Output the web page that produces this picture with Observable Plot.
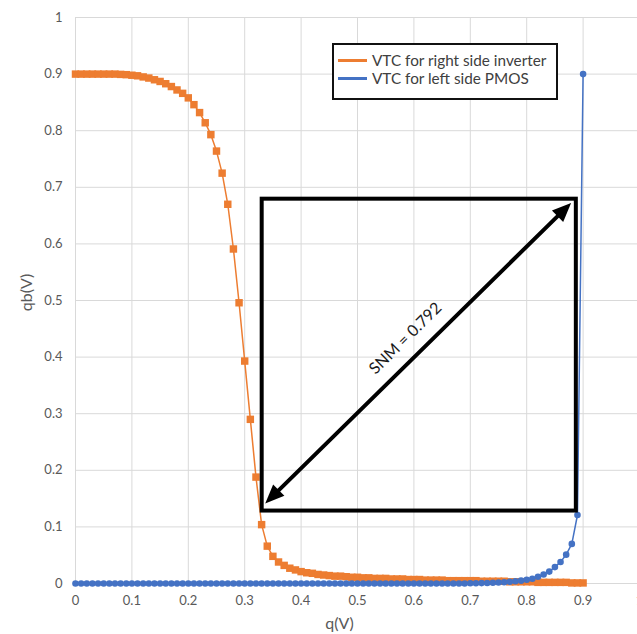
<!DOCTYPE html>
<html><head><meta charset="utf-8">
<script src="https://cdn.jsdelivr.net/npm/d3@7"></script>
<script src="https://cdn.jsdelivr.net/npm/@observablehq/plot@0.6"></script>
<style>
html,body{margin:0;padding:0;background:#fff;overflow:hidden;}
#wrap{position:relative;width:637px;height:634px;overflow:hidden;}
#wrap svg{max-width:none !important;display:block;}
.legend{position:absolute;left:332px;top:43px;width:222px;height:47px;border:2px solid #111;background:#fff;font-family:Lato,sans-serif;font-size:15.3px;color:#404040;padding-top:6px;box-sizing:content-box;}
.legend .row{display:flex;align-items:center;height:18px;white-space:nowrap;}
.legend .sw{width:29px;height:3px;margin-left:4px;margin-right:5px;flex:none;}
</style>
</head><body>
<div id="wrap"></div>
<script>
// ---- data ----
const q = [0,0.01,0.02,0.03,0.04,0.05,0.06,0.07,0.08,0.09,
  0.10,0.11,0.12,0.13,0.14,0.15,0.16,0.17,0.18,0.19,
  0.20,0.21,0.22,0.23,0.24,0.25,0.26,0.27,0.28,0.29,
  0.30,0.31,0.32,0.33,0.34,0.35,0.36,0.37,0.38,0.39,
  0.40,0.41,0.42,0.43,0.44,0.45,0.46,0.47,0.48,0.49,
  0.50,0.51,0.52,0.53,0.54,0.55,0.56,0.57,0.58,0.59,
  0.60,0.61,0.62,0.63,0.64,0.65,0.66,0.67,0.68,0.69,
  0.70,0.71,0.72,0.73,0.74,0.75,0.76,0.77,0.78,0.79,
  0.80,0.81,0.82,0.83,0.84,0.85,0.86,0.87,0.88,0.89,0.90];
const qbInverter = [0.900,0.900,0.900,0.900,0.900,0.900,0.900,0.900,0.8995,0.899,
  0.898,0.897,0.895,0.893,0.890,0.887,0.883,0.878,0.872,0.866,
  0.858,0.846,0.832,0.814,0.793,0.764,0.725,0.670,0.591,0.496,
  0.393,0.290,0.188,0.104,0.066,0.048,0.038,0.032,0.027,0.024,
  0.021,0.019,0.018,0.016,0.015,0.014,0.013,0.013,0.012,0.011,
  0.011,0.010,0.010,0.009,0.009,0.009,0.008,0.008,0.008,0.007,
  0.007,0.007,0.006,0.006,0.006,0.006,0.005,0.005,0.005,0.005,
  0.005,0.005,0.004,0.004,0.004,0.004,0.004,0.003,0.003,0.003,
  0.003,0.003,0.002,0.002,0.002,0.002,0.002,0.002,0.001,0.001,0.001];
const qbPMOS = [0,0,0,0,0,0,0,0,0,0,
  0,0,0,0,0,0,0,0,0,0,
  0,0,0,0,0,0,0,0,0,0,
  0,0,0,0,0,0,0,0,0,0,
  0,0,0,0,0,0,0,0,0,0,
  0,0,0,0,0,0,0,0,0,0,
  0,0,0,0,0,0,0,0,0,0,
  0.0005,0.0005,0.0007,0.001,0.0013,0.0017,0.0022,0.003,0.004,0.005,
  0.0065,0.0085,0.012,0.016,0.021,0.029,0.038,0.051,0.070,0.121,0.900];
const seriesNames = ["VTC for right side inverter", "VTC for left side PMOS"];
const seriesColors = ["#ED7D31", "#4472C4"];
const xTicks = [0,0.1,0.2,0.3,0.4,0.5,0.6,0.7,0.8,0.9,1];
const yTicks = [0,0.1,0.2,0.3,0.4,0.5,0.6,0.7,0.8,0.9,1];
const xLabel = "q(V)";
const yLabel = "qb(V)";
const snmBox = [{x1:0.331, x2:0.888, y1:0.128, y2:0.679}];
const snmArrow = [{x1:0.3364, y1:0.1414, x2:0.8787, y2:0.6724}];
const snmText = [{x:0.585, y:0.433, label:"SNM = 0.792"}];

// ---- build ----
const inv = q.map((x,i)=>({x, y:qbInverter[i]}));
const pm = q.map((x,i)=>({x, y:qbPMOS[i]}));
const heads = [
  {x:snmArrow[0].x2, y:snmArrow[0].y2, r:45.4},
  {x:snmArrow[0].x1, y:snmArrow[0].y1, r:225.4}
];
const arrowHead = {draw(ctx){ctx.moveTo(0,0);ctx.lineTo(-8,19);ctx.lineTo(8,19);ctx.closePath();}};
const fmt = d => String(+d.toFixed(1));

const chart = Plot.plot({
  width: 645, height: 634,
  marginLeft: 75, marginRight: 6, marginTop: 17, marginBottom: 51,
  x: {domain:[0,1]}, y: {domain:[0,1]},
  style: {fontFamily: "Lato, sans-serif", fontSize: "13px", background: "white", maxWidth: "none"},
  marks: [
    Plot.gridX(xTicks, {stroke:"#d9d9d9", strokeOpacity:1}),
    Plot.gridY(yTicks, {stroke:"#d9d9d9", strokeOpacity:1}),
    Plot.axisX(xTicks, {tickSize:0, tickPadding:12, fill:"#595959", label:null, tickFormat:fmt}),
    Plot.axisY(yTicks, {tickSize:0, tickPadding:13, fill:"#595959", label:null, tickFormat:fmt}),
    Plot.text([xLabel], {frameAnchor:"bottom", textAnchor:"middle", lineAnchor:"middle", dx:-18, dy:40, fontSize:16, fill:"#595959", text:d=>d}),
    Plot.text([yLabel], {frameAnchor:"left", textAnchor:"middle", lineAnchor:"middle", dx:-49, dy:-8, rotate:-90, fontSize:16, fill:"#595959", text:d=>d}),
    Plot.line(inv, {x:"x", y:"y", stroke:seriesColors[0], strokeWidth:1.5}),
    Plot.dot(inv, {x:"x", y:"y", symbol:"square", r:4.2, fill:seriesColors[0], stroke:"none"}),
    Plot.line(pm, {x:"x", y:"y", stroke:seriesColors[1], strokeWidth:1.5}),
    Plot.dot(pm, {x:"x", y:"y", symbol:"circle", r:3.3, fill:seriesColors[1], stroke:"none"}),
    Plot.rect(snmBox, {x1:"x1", x2:"x2", y1:"y1", y2:"y2", fill:"none", stroke:"black", strokeWidth:4}),
    Plot.arrow(snmArrow, {x1:"x1", y1:"y1", x2:"x2", y2:"y2", headLength:0, insetStart:12, insetEnd:12, stroke:"black", strokeWidth:4}),
    Plot.dot(heads, {x:"x", y:"y", rotate:"r", symbol:arrowHead, fill:"black", stroke:"none"}),
    Plot.text(snmText, {x:"x", y:"y", text:"label", rotate:-44.6, fontSize:16, fill:"#1a1a1a"})
  ]
});
chart.style.maxWidth = "none";
const wrap = document.getElementById("wrap");
wrap.appendChild(chart);
const leg = document.createElement("div");
leg.className = "legend";
seriesNames.forEach((n,i)=>{
  const row = document.createElement("div"); row.className="row";
  const sw = document.createElement("span"); sw.className="sw"; sw.style.background=seriesColors[i];
  const t = document.createElement("span"); t.textContent = n;
  row.appendChild(sw); row.appendChild(t); leg.appendChild(row);
});
wrap.appendChild(leg);
</script>
</body></html>
